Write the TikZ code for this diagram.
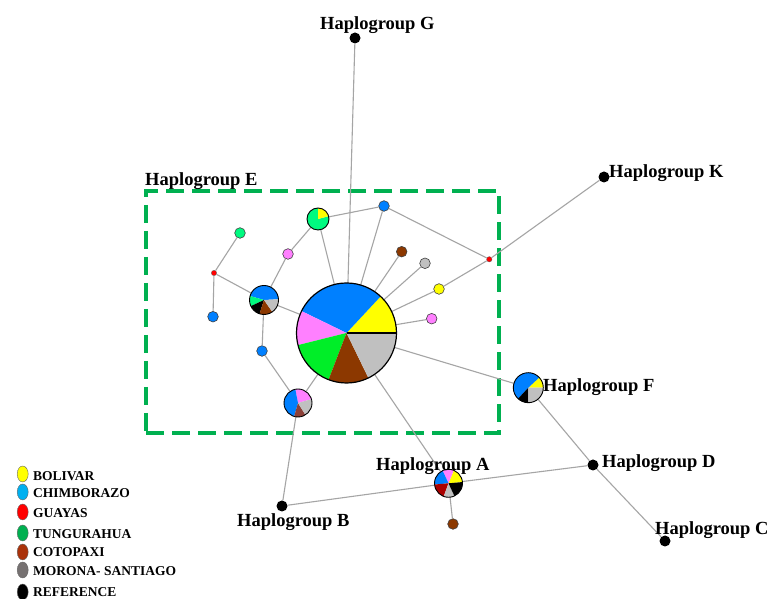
\documentclass[tikz,border=0pt]{standalone}
\usepackage{fontspec}
\setmainfont{Liberation Serif}
\usetikzlibrary{shapes.geometric}
\definecolor{edgegray}{RGB}{165,165,165}
\definecolor{boxgreen}{RGB}{0,176,80}
\definecolor{nyellow}{RGB}{255,255,0}
\definecolor{nblue}{RGB}{0,128,255}
\definecolor{npink}{RGB}{255,128,255}
\definecolor{ngreen}{RGB}{0,238,40}
\definecolor{nmint}{RGB}{0,250,128}
\definecolor{nbrown}{RGB}{140,56,0}
\definecolor{ngray}{RGB}{192,192,192}
\definecolor{nred}{RGB}{255,0,0}
\definecolor{ndred}{RGB}{170,0,0}
\definecolor{nmaroon}{RGB}{140,64,56}
\definecolor{lgyellow}{RGB}{255,255,0}
\definecolor{lgblue}{RGB}{0,176,240}
\definecolor{lgred}{RGB}{255,0,0}
\definecolor{lggreen}{RGB}{0,176,80}
\definecolor{lgbrown}{RGB}{170,50,10}
\definecolor{lggray}{RGB}{118,113,113}
\newcommand\pslice[5]{\fill[#5] (#1.center) -- ++(#3:#2) arc[start angle=#3, end angle=#4, radius=#2] -- cycle;}
\newcommand\prim[2]{\draw[black, line width=0.9pt] (#1.center) circle[radius=#2];}
\begin{document}
\begin{tikzpicture}[x=1pt,y=1pt,
  edge/.style={draw=edgegray, line width=1.1pt},
  pienode/.style={circle, inner sep=0pt, minimum size=#1},
  smallnode/.style={circle, inner sep=0pt, minimum size=10.6pt, draw=black!75, line width=0.6pt},
  tinynode/.style={circle, inner sep=0pt, minimum size=5.4pt, fill=nred, draw=black!60, line width=0.3pt},
  hapdot/.style={circle, inner sep=0pt, minimum size=11pt, fill=black},
  lab/.style={font=\bfseries\fontsize{18.5}{20}\selectfont, anchor=base west, inner sep=0pt},
  legmark/.style={ellipse, inner sep=0pt, minimum width=11pt, minimum height=16pt, draw=black!60, line width=0.4pt},
  legtext/.style={font=\bfseries\fontsize{13.5}{15}\selectfont, anchor=base west, inner sep=0pt},
  groupbox/.style={draw=boxgreen, line width=3.5pt, dash pattern=on 18pt off 8pt}]
\useasboundingbox (0,0) rectangle (771,599);
\fill[white] (0,0) rectangle (771,599);

% dashed box
\node[groupbox, minimum width=353pt, minimum height=242pt, inner sep=0pt] (Ebox) at (322.5,287) {};

% pie nodes (positions)
\node[pienode=100pt] (C0) at (346.5,266) {};
\node[pienode=28pt] (A) at (448.5,115.7) {};
\node[pienode=30pt] (F) at (528.3,211.3) {};
\node[pienode=28pt] (P1) at (298,196) {};
\node[pienode=29pt] (M) at (264,299) {};
\node[pienode=22pt] (GY) at (318,380) {};

% haplogroup dots
\node[hapdot] (G) at (355,561) {};
\node[hapdot] (K) at (604,422) {};
\node[hapdot] (D) at (593,134) {};
\node[hapdot] (Cc) at (665,58) {};
\node[hapdot] (B) at (282,93) {};

% small nodes
\node[smallnode, fill=nbrown] (aB) at (453,75) {};
\node[smallnode, fill=nblue] (b1) at (262,248) {};
\node[smallnode, fill=nmint] (g1) at (240,366) {};
\node[smallnode, fill=nblue] (b2) at (213,282.3) {};
\node[smallnode, fill=npink] (p1) at (288,345) {};
\node[smallnode, fill=nblue] (b3) at (384,393) {};
\node[smallnode, fill=nbrown] (n1) at (401.7,347.3) {};
\node[smallnode, fill=ngray] (n2) at (425,335.7) {};
\node[smallnode, fill=nyellow] (n3) at (439,310) {};
\node[smallnode, fill=npink] (n4) at (431.7,280.3) {};
\node[tinynode] (r1) at (214,326) {};
\node[tinynode] (r2) at (489.3,339.7) {};

% edges
\draw[edge] (G) -- (C0);
\draw[edge] (GY) -- (C0);
\draw[edge] (GY) -- (b3);
\draw[edge] (b3) -- (C0);
\draw[edge] (b3) -- (r2);
\draw[edge] (r2) -- (K);
\draw[edge] (r2) -- (n3);
\draw[edge] (n3) -- (C0);
\draw[edge] (n1) -- (C0);
\draw[edge] (n2) -- (C0);
\draw[edge] (n4) -- (C0);
\draw[edge] (C0) -- (F);
\draw[edge] (C0) -- (A);
\draw[edge] (F) -- (D);
\draw[edge] (D) -- (Cc);
\draw[edge] (D) -- (A);
\draw[edge] (A) -- (B);
\draw[edge] (A) -- (aB);
\draw[edge] (B) -- (P1);
\draw[edge] (P1) -- (b1);
\draw[edge] (P1) -- (C0);
\draw[edge] (b1) -- (M);
\draw[edge] (M) -- (C0);
\draw[edge] (M) -- (r1);
\draw[edge] (M) -- (p1);
\draw[edge] (p1) -- (GY);
\draw[edge] (r1) -- (g1);
\draw[edge] (r1) -- (b2);

% central pie
\pslice{C0}{50}{0}{47}{nyellow}
\pslice{C0}{50}{47}{154}{nblue}
\pslice{C0}{50}{154}{194}{npink}
\pslice{C0}{50}{194}{249}{ngreen}
\pslice{C0}{50}{249}{296}{nbrown}
\pslice{C0}{50}{296}{359}{ngray}
\pslice{C0}{50}{359}{360}{black}
\draw[black, line width=2.2pt] (C0.center) -- ++(0:50);
\draw[black, line width=1.2pt] (C0.center) circle[radius=50];

% haplogroup A pie
\pslice{A}{14}{5}{68}{nyellow}
\pslice{A}{14}{68}{115}{npink}
\pslice{A}{14}{115}{185}{nblue}
\pslice{A}{14}{185}{250}{ndred}
\pslice{A}{14}{250}{295}{ngray}
\pslice{A}{14}{295}{365}{black}
\prim{A}{14}

% haplogroup F pie
\pslice{F}{15}{0}{43}{nyellow}
\pslice{F}{15}{43}{227}{nblue}
\pslice{F}{15}{227}{270}{black}
\pslice{F}{15}{270}{360}{ngray}
\prim{F}{15}

% pie P1
\pslice{P1}{14}{16}{101}{npink}
\pslice{P1}{14}{101}{254}{nblue}
\pslice{P1}{14}{254}{302}{nmaroon}
\pslice{P1}{14}{302}{376}{ngray}
\prim{P1}{14}

% pie M
\pslice{M}{14.5}{3}{164}{nblue}
\pslice{M}{14.5}{164}{205}{nmint}
\pslice{M}{14.5}{205}{252}{black}
\pslice{M}{14.5}{252}{305}{nbrown}
\pslice{M}{14.5}{305}{363}{ngray}
\prim{M}{14.5}

% pie GY
\pslice{GY}{11}{90}{375}{nmint}
\pslice{GY}{11}{15}{90}{nyellow}
\prim{GY}{11}

% labels
\node[lab] (labG) at (320,569) {Haplogroup G};
\node[lab] (labK) at (609,421) {Haplogroup K};
\node[lab] (labE) at (145,413) {Haplogroup E};
\node[lab] (labF) at (543,207) {Haplogroup F};
\node[lab] (labA) at (376,128.3) {Haplogroup A};
\node[lab] (labD) at (602,131) {Haplogroup D};
\node[lab] (labB) at (237,72) {Haplogroup B};
\node[lab] (labC) at (655,64) {Haplogroup C};

% legend
\node[legmark, fill=lgyellow] (m1) at (22.7,125) {};
\node[legmark, fill=lgblue] (m2) at (22.7,107) {};
\node[legmark, fill=lgred] (m3) at (22.7,87) {};
\node[legmark, fill=lggreen] (m4) at (22.7,66) {};
\node[legmark, fill=lgbrown] (m5) at (22.7,47) {};
\node[legmark, fill=lggray] (m6) at (22.7,29) {};
\node[legmark, fill=black] (m7) at (22.7,7) {};
\node[legtext] (t1) at (33,118) {BOLIVAR};
\node[legtext] (t2) at (33,101.5) {CHIMBORAZO};
\node[legtext] (t3) at (33,81.5) {GUAYAS};
\node[legtext] (t4) at (33,60.5) {TUNGURAHUA};
\node[legtext] (t5) at (33,42.5) {COTOPAXI};
\node[legtext] (t6) at (33,23.5) {MORONA- SANTIAGO};
\node[legtext] (t7) at (33,2.5) {REFERENCE};
\end{tikzpicture}
\end{document}
